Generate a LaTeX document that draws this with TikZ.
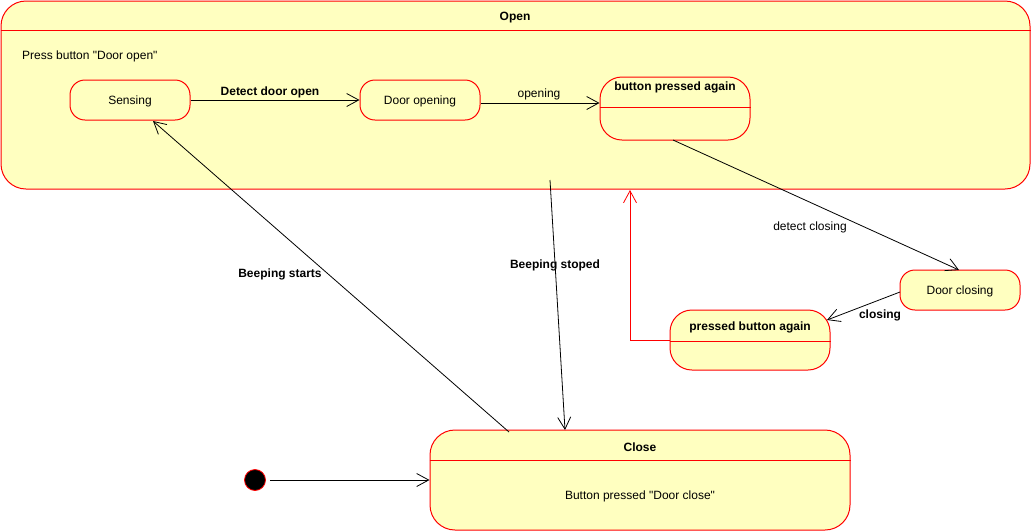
\documentclass[tikz,border=0pt]{standalone}
\usepackage{fontspec}
\setmainfont{Liberation Sans}[Ligatures=TeXOff]
\usetikzlibrary{arrows.meta}
\definecolor{statefill}{HTML}{FFFFC0}
\definecolor{statered}{HTML}{FF0000}
\tikzset{
  state/.style={draw=statered, fill=statefill, line width=1pt, inner sep=0pt},
  lbl/.style={font=\fontsize{12}{14}\selectfont, inner sep=1pt, yshift=-1.5pt},
  blbl/.style={font=\fontsize{12}{14}\selectfont\bfseries, inner sep=1pt, yshift=-1.5pt},
  conn/.style={draw=black, line width=0.8pt, -{Straight Barb[length=12pt,width=13pt,line width=0.8pt]}},
  rconn/.style={draw=statered, line width=0.8pt, -{Straight Barb[length=12pt,width=13pt,line width=0.8pt]}},
  hdr/.style={draw=statered, line width=1pt}
}
\begin{document}
\begin{tikzpicture}[x=1pt,y=-1pt]
\useasboundingbox (0,0) rectangle (1031,531);
% Open composite state
\node[state, rounded corners=25pt, minimum width=1029pt, minimum height=188pt] (open) at (515.5,95) {};
\draw[hdr] (open.west |- 0,30) -- (open.east |- 0,30);
\node[blbl] (opent) at (515,16) {Open};
\node[lbl, anchor=west] (press) at (21,55) {Press button "Door open"};
% inner states
\node[state, rounded corners=15pt, minimum width=120pt, minimum height=40pt] (sensing) at (130,100) {};
\node[lbl] (sensingt) at (130,100) {Sensing};
\node[state, rounded corners=15pt, minimum width=120pt, minimum height=40pt] (dooropen) at (420,100) {};
\node[lbl] (dooropent) at (420,100) {Door opening};
\node[state, rounded corners=22pt, minimum width=150pt, minimum height=63pt] (bpa) at (675,108.5) {};
\draw[hdr] (bpa.west |- 0,107) -- (bpa.east |- 0,107);
\node[blbl] (bpat) at (675,86) {button pressed again};
% outside states
\node[state, rounded corners=15pt, minimum width=120pt, minimum height=40pt] (doorclose) at (960,290) {};
\node[lbl] (doorcloset) at (960,290) {Door closing};
\node[state, rounded corners=22pt, minimum width=160pt, minimum height=60pt] (pba) at (750,340) {};
\draw[hdr] (pba.west |- 0,341) -- (pba.east |- 0,341);
\node[blbl] (pbat) at (750,326) {pressed button again};
\node[state, rounded corners=25pt, minimum width=420pt, minimum height=100pt] (close) at (640,480) {};
\draw[hdr] (close.west |- 0,460) -- (close.east |- 0,460);
\node[blbl] (closet) at (640,446) {Close};
\node[lbl] (closeb) at (640,495) {Button pressed "Door close"};
% initial state
\node[circle, draw=statered, fill=black, line width=0.8pt, minimum size=21pt, inner sep=0pt] (init) at (255,480) {};
% connectors
\draw[conn] (sensing.east) -- (dooropen.west);
\node[blbl] (l1) at (270,91) {Detect door open};
\draw[conn] (dooropen.east |- 0,103) -- (bpa.west |- 0,103);
\node[lbl] (l2) at (539,93) {opening};
\coordinate (bpaout) at (673,140);
\coordinate (dcin) at (959,270);
\draw[conn] (bpaout) -- (dcin);
\node[lbl] (l3) at (810,226) {detect closing};
\coordinate (dcout) at (900,292);
\coordinate (pbain) at (827,320);
\draw[conn] (dcout) -- (pbain);
\node[blbl] (l4) at (880,314) {closing};
\coordinate (redtip) at (630,190);
\draw[rconn] (pba.west |- 0,340) -| (redtip);
\coordinate (bsstart) at (550,180);
\coordinate (bsend) at (565,430);
\draw[conn] (bsstart) -- (bsend);
\node[blbl] (l5) at (555,264) {Beeping stoped};
\coordinate (bstart) at (509,432);
\coordinate (bsens) at (153,121);
\draw[conn] (bstart) -- (bsens);
\node[blbl] (l6) at (280,273) {Beeping starts};
\draw[conn] (init.east) ++(4,0) coordinate (initout) (initout) -- (close.west);
\end{tikzpicture}
\end{document}
